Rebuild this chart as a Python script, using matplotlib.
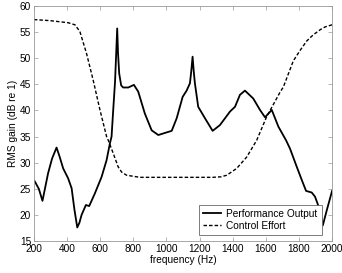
import numpy as np
import matplotlib
matplotlib.use("Agg")
import matplotlib.pyplot as plt

plt.rcParams["font.family"] = ["Liberation Sans", "DejaVu Sans"]
plt.rcParams["font.size"] = 7.3

# Performance output (solid)
perf_f = [200, 206, 230, 252, 270, 286, 310, 337, 355, 377, 407, 428, 445, 462, 475,
          488, 514, 534, 568, 609, 639, 659, 669, 679, 690, 703, 708, 715, 727, 739,
          770, 804, 830, 870, 911, 951, 991, 1032, 1062, 1098, 1122, 1142, 1150,
          1158, 1165, 1172, 1192, 1233, 1279, 1323, 1384, 1414, 1444, 1474, 1524,
          1565, 1595, 1636, 1676, 1722, 1746, 1787, 1817, 1843, 1877, 1897, 1927,
          1944, 1968, 2000]
perf_db = [26.6, 26.4, 25.0, 22.7, 25.5, 28.0, 30.8, 32.9, 31.2, 28.9, 27.0, 25.1,
           21.0, 17.6, 18.5, 20.0, 21.9, 21.7, 24.1, 27.3, 30.5, 33.7, 35.0, 40.1,
           45.5, 55.7, 51.0, 47.1, 44.8, 44.4, 44.4, 44.9, 43.6, 39.4, 36.2, 35.3,
           35.7, 36.1, 38.5, 42.6, 43.8, 45.2, 47.5, 50.3, 47.5, 45.2, 40.7, 38.5,
           36.1, 37.2, 39.8, 40.7, 43.0, 43.8, 42.3, 40.1, 38.7, 40.1, 36.9, 34.3,
           32.7, 29.2, 26.7, 24.6, 24.3, 23.5, 20.9, 18.0, 20.9, 24.6]

# Control effort (dashed)
ctrl_f = [200, 297, 407, 448, 478, 518, 558, 599, 639, 649, 679, 709, 730, 760, 840,
          1000, 1200, 1280, 1330, 1364, 1424, 1485, 1545, 1605, 1686, 1706, 1766,
          1807, 1847, 1887, 1930, 1958, 2000]
ctrl_db = [57.4, 57.2, 56.8, 56.4, 55.1, 50.9, 45.8, 40.1, 35.0, 34.3, 31.8, 29.2,
           28.2, 27.6, 27.2, 27.2, 27.2, 27.2, 27.3, 27.6, 28.9, 31.1, 34.3, 38.8,
           43.5, 44.5, 49.5, 51.5, 53.3, 54.5, 55.5, 56.0, 56.4]

fig = plt.figure(figsize=(3.42, 2.73), dpi=100)
ax = fig.add_axes([0.099, 0.117, 0.872, 0.861])

ax.plot(perf_f, perf_db, "k-", lw=1.3, label="Performance Output")
ax.plot(ctrl_f, ctrl_db, "k--", lw=1.0, dashes=(2.5, 1.5), label="Control Effort")

ax.set_xlim(200, 2000)
ax.set_ylim(15, 60)
ax.set_xticks(range(200, 2001, 200))
ax.set_yticks(range(15, 61, 5))
ax.tick_params(direction="in", top=True, right=True, length=3, width=0.5,
               colors="#999999", labelcolor="black", pad=2)
for s in ax.spines.values():
    s.set_color("#999999")
    s.set_linewidth(0.6)

ax.set_xlabel("frequency (Hz)", labelpad=1)
ax.set_ylabel("RMS gain (dB re 1)", labelpad=1)

leg = ax.legend(loc="lower right", bbox_to_anchor=(0.965, 0.026), borderaxespad=0,
                fancybox=False, framealpha=1, edgecolor="#666666",
                handlelength=1.8, borderpad=0.4, labelspacing=0.2,
                handletextpad=0.5)
leg.get_frame().set_linewidth(0.6)

fig.savefig("out.png", dpi=100)
